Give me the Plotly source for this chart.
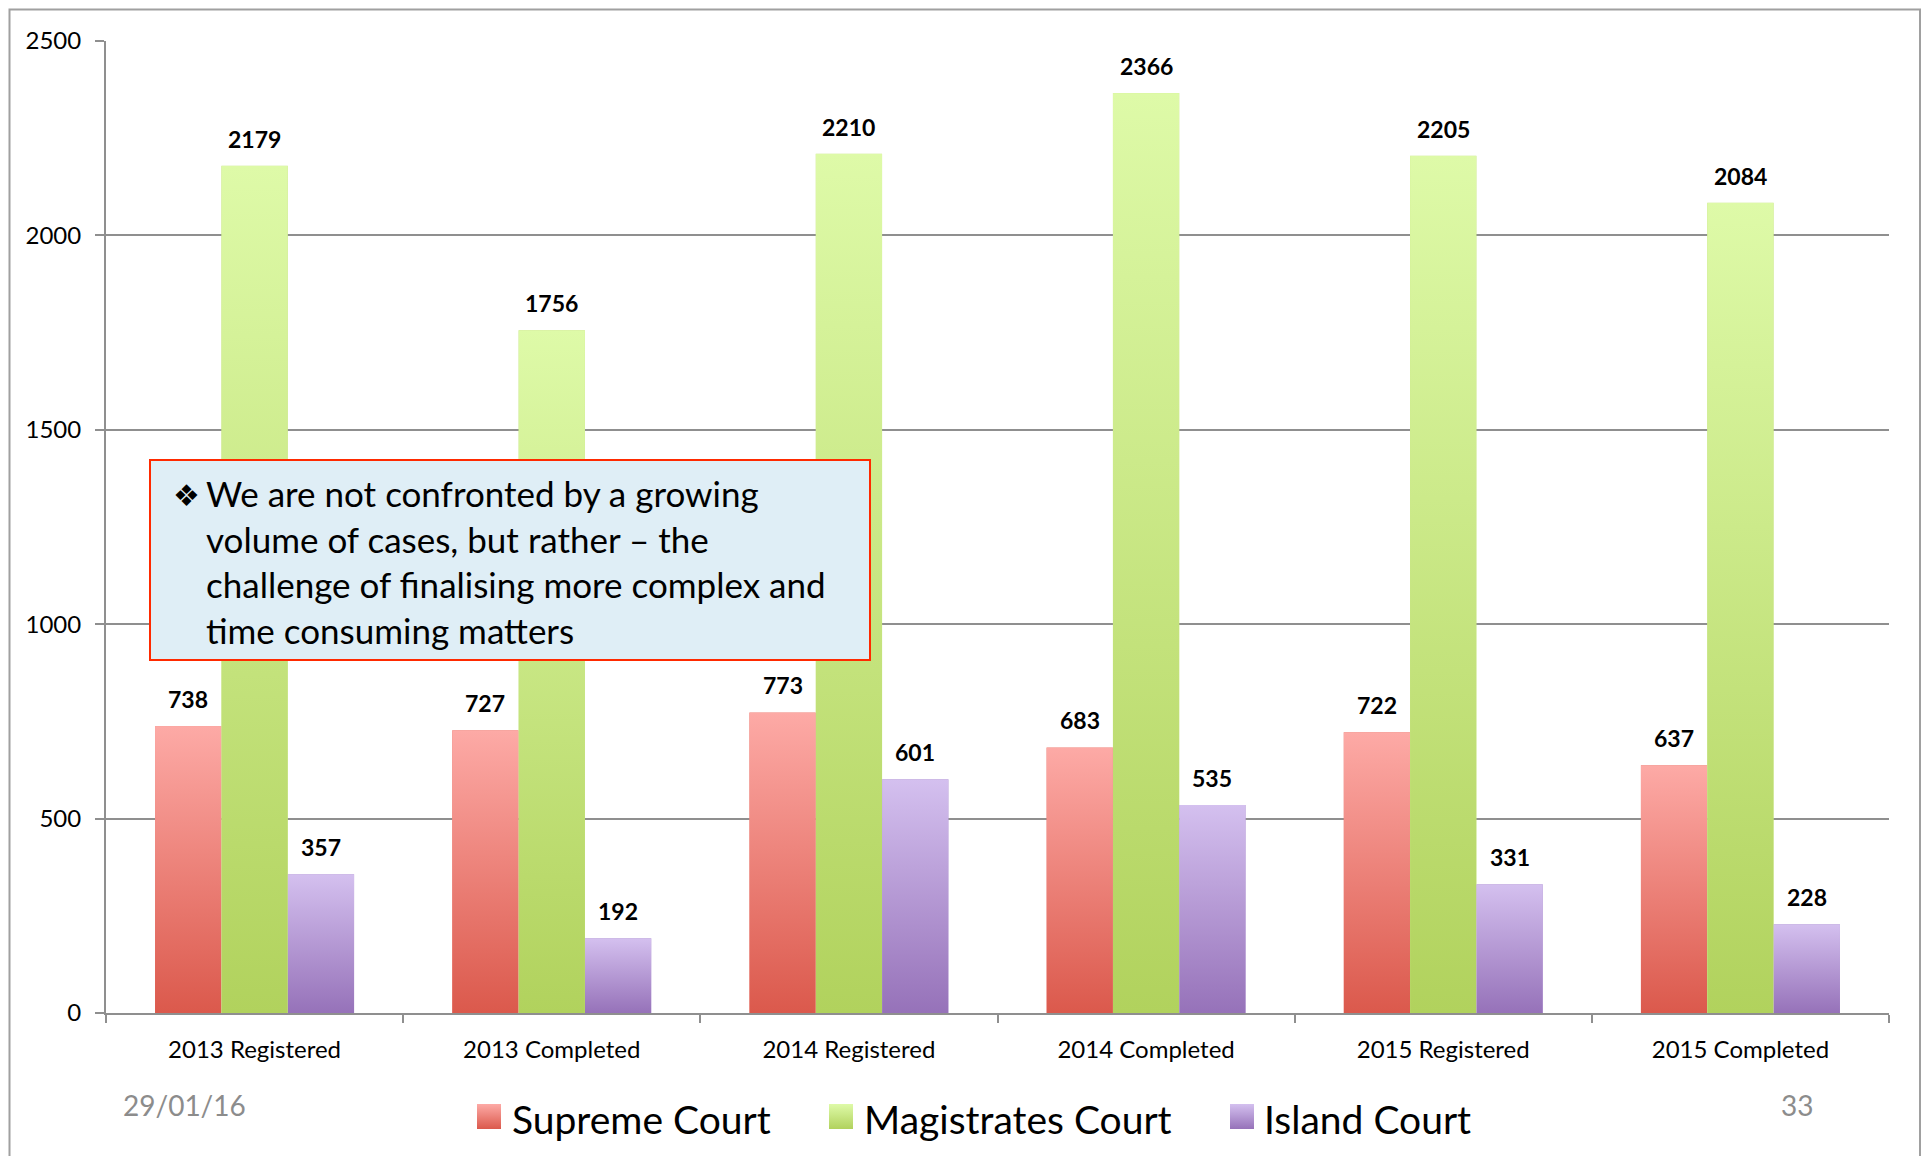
import base64
import plotly.graph_objects as go

categories = ["2013 Registered", "2013 Completed", "2014 Registered",
              "2014 Completed", "2015 Registered", "2015 Completed"]
supreme = [738, 727, 773, 683, 722, 637]
magistrates = [2179, 1756, 2210, 2366, 2205, 2084]
island = [357, 192, 601, 535, 331, 228]
series_names = ["Supreme Court", "Magistrates Court", "Island Court"]
y_ticks = [0, 500, 1000, 1500, 2000, 2500]
note_lines = ["We are not confronted by a growing",
              "volume of cases, but rather \u2013 the",
              "challenge of finalising more complex and",
              "time consuming matters"]
footer_date = "29/01/16"
page_number = "33"

colors = ["#EC8279", "#C8E583", "#B59BD5"]
grad_top = ["#FDAAA6", "#DEFAA8", "#D4C0EF"]
grad_bottom = ["#DB594C", "#B1D25D", "#9672B9"]

OFF = 8  # page body margin
W, H = 1930 - 2 * OFF, 1164 - 2 * OFF
L, T = 106 - OFF, 41 - OFF
R = W - (1889 - OFF)
B = H - (1013 - OFF)
PW, PH = W - L - R, H - T - B
BARGAP = 0.33
FONT = "Lato"


def px_x(px):
    return (px - OFF - L) / PW


def px_y(py):
    return (H - B - (py - OFF)) / PH


def gradient_uri(top, bottom):
    svg = ("<svg xmlns='http://www.w3.org/2000/svg' width='10' height='100' "
           "viewBox='0 0 10 100' preserveAspectRatio='none'><defs>"
           "<linearGradient id='g' x1='0' y1='0' x2='0' y2='1'>"
           f"<stop offset='0' stop-color='{top}'/><stop offset='1' stop-color='{bottom}'/>"
           "</linearGradient></defs><rect x='0' y='0' width='10' height='100' fill='url(#g)'/></svg>")
    return "data:image/svg+xml;base64," + base64.b64encode(svg.encode()).decode()


grad_uris = [gradient_uri(t, b) for t, b in zip(grad_top, grad_bottom)]

fig = go.Figure()
all_series = [supreme, magistrates, island]
for name, vals, col in zip(series_names, all_series, colors):
    fig.add_trace(go.Bar(x=categories, y=vals, name=name,
                         marker=dict(color=col, line=dict(width=0)),
                         showlegend=False))

# gradient skins on the bars (positioned on the category axis)
bar_w = (1 - BARGAP) / 3
images = []
for si, (vals, uri) in enumerate(zip(all_series, grad_uris)):
    for ci, v in enumerate(vals):
        images.append(dict(source=uri, xref="x", yref="y",
                           x=ci - (1 - BARGAP) / 2 + si * bar_w, y=v,
                           sizex=bar_w, sizey=v, xanchor="left", yanchor="top",
                           sizing="stretch", layer="above"))

# value labels
bar_px = PW / len(categories) * bar_w
annotations = []
for si, vals in enumerate(all_series):
    for c, v in zip(categories, vals):
        annotations.append(dict(x=c, y=v, xref="x", yref="y", text=f"<b>{v}</b>",
                                showarrow=False, xshift=(si - 1) * bar_px, yshift=27,
                                yanchor="middle", xanchor="center",
                                font=dict(family=FONT, size=23, color="black")))

shapes = []
# outer frame
shapes.append(dict(type="rect", xref="paper", yref="paper",
                   x0=px_x(9.5), x1=px_x(1920), y0=px_y(1220), y1=px_y(9.5),
                   line=dict(color="#A0A0A0", width=2), fillcolor="rgba(0,0,0,0)",
                   layer="above"))
# note box
shapes.append(dict(type="rect", xref="paper", yref="paper",
                   x0=px_x(150), x1=px_x(870), y0=px_y(660), y1=px_y(460),
                   line=dict(color="#FF2A00", width=2), fillcolor="#DFEEF6",
                   layer="above"))
annotations.append(dict(xref="paper", yref="paper", x=px_x(171), y=px_y(495),
                        text="\u2756", showarrow=False, xanchor="left", yanchor="middle",
                        font=dict(family="DejaVu Sans", size=30, color="black")))
annotations.append(dict(xref="paper", yref="paper", x=px_x(204), y=px_y(470),
                        text="<br>".join(note_lines), showarrow=False, align="left",
                        xanchor="left", yanchor="top",
                        font=dict(family=FONT, size=35, color="black")))

# legend
leg_sw = [477, 829, 1230]
leg_tx = [510, 862, 1262]
for name, uri, sx, tx in zip(series_names, grad_uris, leg_sw, leg_tx):
    images.append(dict(source=uri, xref="paper", yref="paper",
                       x=px_x(sx), y=px_y(1104), sizex=px_x(sx + 24) - px_x(sx),
                       sizey=px_y(1104) - px_y(1129), xanchor="left", yanchor="top",
                       sizing="stretch", layer="above"))
    annotations.append(dict(xref="paper", yref="paper", x=px_x(tx), y=px_y(1119),
                            text=name, showarrow=False, xanchor="left", yanchor="middle",
                            font=dict(family=FONT, size=39, color="black")))

# footer
annotations.append(dict(xref="paper", yref="paper", x=px_x(121), y=px_y(1105),
                        text=footer_date, showarrow=False, xanchor="left", yanchor="middle",
                        font=dict(family=FONT, size=28, color="#8C8C8C")))
annotations.append(dict(xref="paper", yref="paper", x=px_x(1779), y=px_y(1105),
                        text=page_number, showarrow=False, xanchor="left", yanchor="middle",
                        font=dict(family=FONT, size=28, color="#8C8C8C")))

fig.update_layout(
    width=W, height=H,
    margin=dict(l=L, r=R, t=T, b=B, pad=0),
    barmode="group", bargap=BARGAP, bargroupgap=0,
    plot_bgcolor="white", paper_bgcolor="white",
    font=dict(family=FONT, color="black"),
    shapes=shapes, annotations=annotations, images=images,
    showlegend=False,
)
fig.update_xaxes(showline=True, linecolor="#8F8F8F", linewidth=2,
                 ticks="outside", tickson="boundaries", ticklen=8, tickwidth=2,
                 tickcolor="#8F8F8F", showgrid=False, ticklabelstandoff=14,
                 tickfont=dict(family=FONT, size=24, color="black"))
fig.update_yaxes(range=[0, 2500], tickvals=y_ticks, showline=True, linecolor="#8F8F8F",
                 linewidth=2, ticks="outside", ticklen=9, tickwidth=2, tickcolor="#8F8F8F",
                 showgrid=True, gridcolor="#8F8F8F", gridwidth=2, zeroline=False,
                 ticklabelstandoff=9,
                 tickfont=dict(family=FONT, size=24, color="black"))

fig.write_html("out.html")
